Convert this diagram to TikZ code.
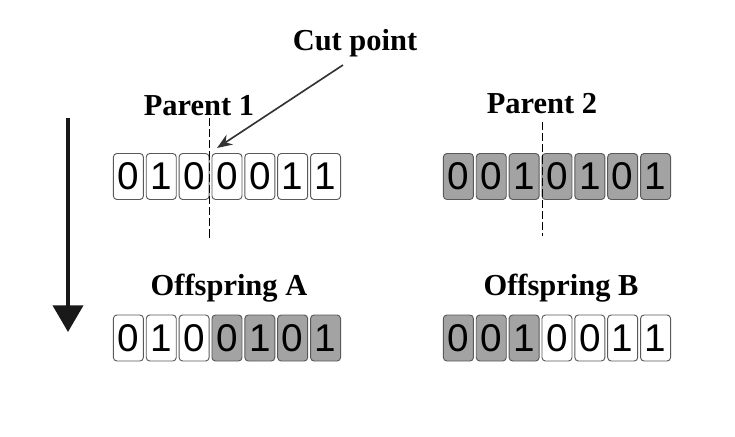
\documentclass[tikz,border=0pt]{standalone}
\usepackage{fontspec}
\setmainfont{Liberation Serif}
\newfontfamily\bitfont{Liberation Sans}
\usetikzlibrary{arrows.meta}

\tikzset{
  bit/.style={draw=black!65, line width=0.8pt, rounded corners=3pt,
              minimum width=0.9cm, minimum height=1.38cm, inner sep=0pt,
              font=\bitfont\fontsize{33}{33}\selectfont},
  bitw/.style={bit, fill=white},
  bitg/.style={bit, fill=black!36},
  title/.style={anchor=base, font=\bfseries\fontsize{26}{30}\selectfont},
  cutline/.style={line width=0.7pt, dash pattern=on 7pt off 2.5pt}
}

\begin{document}
\begin{tikzpicture}[x=0.03cm,y=-0.03cm]
  \useasboundingbox (0,0) rectangle (735,436);
  % titles
  \node[title] (cut) at (355,50) {Cut point};
  \node[title] (tp1) at (199,115) {Parent 1};
  \node[title] (tp2) at (542,113) {Parent 2};
  \node[title] (toa) at (229,295) {Offspring A};
  \node[title] (tob) at (561,295) {Offspring B};
  % parents
  \foreach \b [count=\i] in {0,1,0,0,0,1,1}
    \node[bitw] (pa\i) at ({128.4+32.86*(\i-1)},176.5) {\b};
  \foreach \b [count=\i] in {0,0,1,0,1,0,1}
    \node[bitg] (pb\i) at ({458.4+32.86*(\i-1)},176.5) {\b};
  % offspring
  \foreach \b/\s [count=\i] in {0/bitw,1/bitw,0/bitw,0/bitg,1/bitg,0/bitg,1/bitg}
    \node[\s] (oa\i) at ({128.4+32.86*(\i-1)},338) {\b};
  \foreach \b/\s [count=\i] in {0/bitg,0/bitg,1/bitg,0/bitw,0/bitw,1/bitw,1/bitw}
    \node[\s] (ob\i) at ({458.4+32.86*(\i-1)},338) {\b};
  % cut lines
  \coordinate (ca1) at (209,118);
  \coordinate (ca2) at (209,240);
  \coordinate (cb1) at (542,122);
  \coordinate (cb2) at (542,236);
  \draw[cutline] (ca1) -- (ca2);
  \draw[cutline] (cb1) -- (cb2);
  % cut point arrow
  \coordinate (cuttail) at (343,65);
  \coordinate (cuthead) at (217,148);
  \draw[line width=1.4pt, black!80, -{Stealth[length=13pt,width=10pt]}] (cuttail) -- (cuthead);
  % big arrow
  \coordinate (gtop) at (68,118);
  \coordinate (gbot) at (68,332);
  \draw[line width=3.4pt, black!90, -{Triangle[length=0.8cm,width=0.9cm]}] (gtop) -- (gbot);
\end{tikzpicture}
\end{document}
